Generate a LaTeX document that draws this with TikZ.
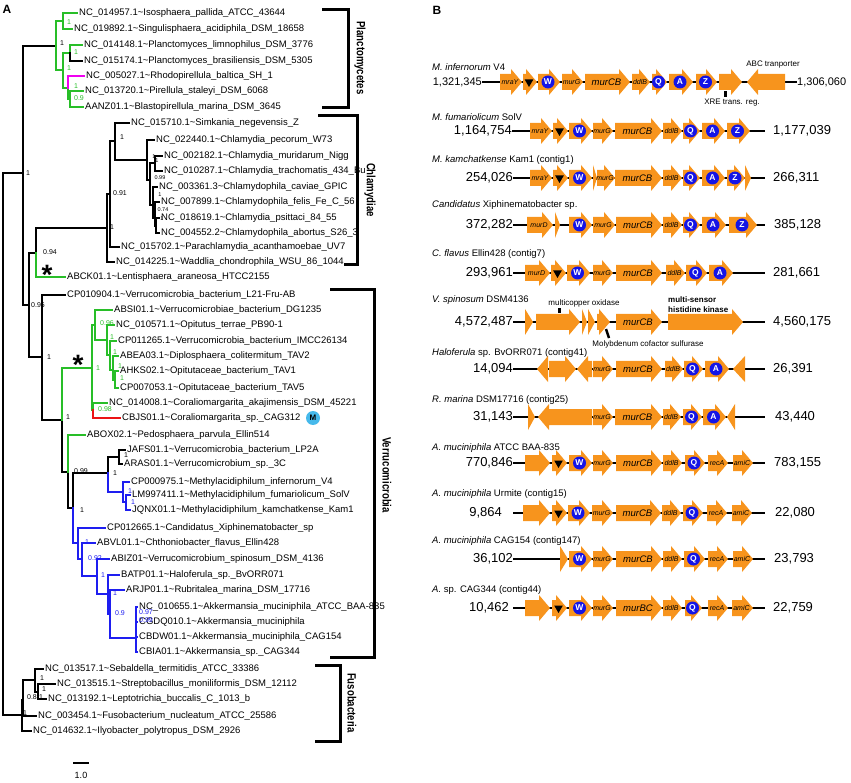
\documentclass[tikz,border=0pt]{standalone}
\usepackage{fontspec}
\setmainfont{Liberation Sans}
\usepackage{graphicx}
\usetikzlibrary{shapes.geometric}
\definecolor{treegreen}{RGB}{40,190,40}
\definecolor{treeblue}{RGB}{30,30,240}
\definecolor{treemag}{RGB}{240,0,240}
\definecolor{treered}{RGB}{235,20,20}
\definecolor{geneorange}{RGB}{247,148,29}
\definecolor{circblue}{RGB}{20,20,230}
\definecolor{mblue}{RGB}{70,185,235}
\newcommand{\tld}{\textasciitilde}
\newcommand{\rgene}[5][genelab]{%
  \fill[geneorange] (#2,#4-8) -- (#3-11,#4-8) -- (#3-11,#4-13) -- (#3,#4) -- (#3-11,#4+13) -- (#3-11,#4+8) -- (#2,#4+8) -- cycle;
  \node[#1] (g#2-#4) at ({(#2+#3)/2-1},#4) {#5};}
\newcommand{\lgene}[3]{%
  \fill[geneorange] (#2,#3-8) -- (#1+11,#3-8) -- (#1+11,#3-13) -- (#1,#3) -- (#1+11,#3+13) -- (#1+11,#3+8) -- (#2,#3+8) -- cycle;}
\newcommand{\rtip}[3]{\fill[geneorange] (#1,#3-13) -- (#2,#3) -- (#1,#3+13) -- cycle;}
\newcommand{\ltip}[3]{\fill[geneorange] (#2,#3-13) -- (#1,#3) -- (#2,#3+13) -- cycle;}
\tikzset{
  leaf/.style={anchor=west, inner xsep=2pt, inner ysep=0pt, font=\fontsize{9.5}{10}\selectfont},
  bs/.style={inner sep=0pt, font=\fontsize{7}{7}\selectfont},
  bss/.style={inner sep=0pt, font=\fontsize{5.5}{5.5}\selectfont},
  branch/.style={line width=1.6pt, line cap=rect},
  clade/.style={line width=3pt},
  cladelab/.style={rotate=-90, inner sep=0pt, font=\bfseries\fontsize{12}{12}\selectfont},
  astx/.style={anchor=base, inner sep=0pt, font=\bfseries\fontsize{28}{28}\selectfont},
  genelab/.style={font=\itshape\fontsize{7}{7}\selectfont, inner sep=0pt},
  bigit/.style={font=\itshape\fontsize{9.5}{9.5}\selectfont, inner sep=0pt},
  letter/.style={circle, fill=circblue, text=white, font=\bfseries\fontsize{8.5}{8.5}\selectfont, inner sep=0pt, minimum size=13pt},
  tri/.style={regular polygon, regular polygon sides=3, shape border rotate=180, fill=black, inner sep=0pt, minimum size=10pt},
  num/.style={font=\fontsize{13}{13}\selectfont, inner sep=0pt},
  numsm/.style={font=\fontsize{11}{11}\selectfont, inner sep=0pt},
  sp/.style={anchor=west, inner sep=0pt, font=\fontsize{9.5}{10}\selectfont},
  note/.style={font=\fontsize{8}{8}\selectfont, inner sep=0pt},
  chrom/.style={line width=1.6pt},
}
\begin{document}
\begin{tikzpicture}[x=1pt,y=-1pt]
\useasboundingbox (0,0) rectangle (851,783);
\node[font=\bfseries\fontsize{12}{12}\selectfont] (pa) at (7,9) {A};
\node[font=\bfseries\fontsize{12}{12}\selectfont] (pb) at (437,10) {B};

\coordinate (R) at (3,444);
\coordinate (A) at (23,173);
\coordinate (Np0) at (56,46);
\coordinate (Np1) at (63,21);
\coordinate (Np2) at (63,70);
\coordinate (Np3) at (70,53);
\coordinate (Np4) at (68,88);
\coordinate (Np5) at (70,99);
\coordinate (B) at (29,305);
\coordinate (NL) at (36,253);
\coordinate (Nc0) at (107,228);
\coordinate (Nc1) at (110,194);
\coordinate (Nc2) at (115,141);
\coordinate (Nc3) at (147,160);
\coordinate (Nc4) at (150,180);
\coordinate (Nc5) at (155,163);
\coordinate (Nc6) at (153,205);
\coordinate (Nc7) at (155,218);
\coordinate (Nc8) at (156,226);
\coordinate (V0) at (42,357);
\coordinate (V1) at (62,420);
\coordinate (V2) at (92,368);
\coordinate (V2a) at (95,325);
\coordinate (V2c) at (107,340);
\coordinate (V2d) at (110,355);
\coordinate (V2e) at (113,370);
\coordinate (V2f) at (115,380);
\coordinate (V2b) at (93,410);
\coordinate (V3) at (68,472);
\coordinate (V4) at (73,508);
\coordinate (V5) at (108,473);
\coordinate (V5a) at (119,457);
\coordinate (V5b) at (123,492);
\coordinate (V5c) at (126,502);
\coordinate (V6) at (78,543);
\coordinate (V7) at (82,559);
\coordinate (V8) at (97,576);
\coordinate (V9) at (108,594);
\coordinate (V10) at (110,614);
\coordinate (V11) at (136,638);
\coordinate (F0) at (22,715);
\coordinate (F1) at (23,700);
\coordinate (F2) at (35,680);
\coordinate (F3) at (38,692);

\node[leaf] (L1) at (77,13) {NC\_014957.1\tld Isosphaera\_pallida\_ATCC\_43644};
\node[leaf] (L2) at (72,29) {NC\_019892.1\tld Singulisphaera\_acidiphila\_DSM\_18658};
\node[leaf] (L3) at (82,45) {NC\_014148.1\tld Planctomyces\_limnophilus\_DSM\_3776};
\node[leaf] (L4) at (82,61) {NC\_015174.1\tld Planctomyces\_brasiliensis\_DSM\_5305};
\node[leaf] (L5) at (84,76) {NC\_005027.1\tld Rhodopirellula\_baltica\_SH\_1};
\node[leaf] (L6) at (83,91) {NC\_013720.1\tld Pirellula\_staleyi\_DSM\_6068};
\node[leaf] (L7) at (83,107) {AANZ01.1\tld Blastopirellula\_marina\_DSM\_3645};
\node[leaf] (C1) at (129,123) {NC\_015710.1\tld Simkania\_negevensis\_Z};
\node[leaf] (C2) at (154,140) {NC\_022440.1\tld Chlamydia\_pecorum\_W73};
\node[leaf] (C3) at (162,156) {NC\_002182.1\tld Chlamydia\_muridarum\_Nigg};
\node[leaf] (C4) at (162,171) {NC\_010287.1\tld Chlamydia\_trachomatis\_434\_Bu};
\node[leaf] (C5) at (157,187) {NC\_003361.3\tld Chlamydophila\_caviae\_GPIC};
\node[leaf] (C6) at (159,202) {NC\_007899.1\tld Chlamydophila\_felis\_Fe\_C\_56};
\node[leaf] (C7) at (159,218) {NC\_018619.1\tld Chlamydia\_psittaci\_84\_55};
\node[leaf] (C8) at (159,233) {NC\_004552.2\tld Chlamydophila\_abortus\_S26\_3};
\node[leaf] (C9) at (119,247) {NC\_015702.1\tld Parachlamydia\_acanthamoebae\_UV7};
\node[leaf] (C10) at (114,262) {NC\_014225.1\tld Waddlia\_chondrophila\_WSU\_86\_1044};
\node[leaf] (Le) at (65,277) {ABCK01.1\tld Lentisphaera\_araneosa\_HTCC2155};
\node[leaf] (Vcp) at (65,295) {CP010904.1\tld Verrucomicrobia\_bacterium\_L21-Fru-AB};
\node[leaf] (Vabsi) at (112,310) {ABSI01.1\tld Verrucomicrobiae\_bacterium\_DG1235};
\node[leaf] (Vopi) at (114,325) {NC\_010571.1\tld Opitutus\_terrae\_PB90-1};
\node[leaf] (Vimcc) at (116,341) {CP011265.1\tld Verrucomicrobia\_bacterium\_IMCC26134};
\node[leaf] (Vdip) at (118,356) {ABEA03.1\tld Diplosphaera\_colitermitum\_TAV2};
\node[leaf] (Vtav1) at (118,371) {AHKS02.1\tld Opitutaceae\_bacterium\_TAV1};
\node[leaf] (Vtav5) at (118,388) {CP007053.1\tld Opitutaceae\_bacterium\_TAV5};
\node[leaf] (Vcor) at (107,403) {NC\_014008.1\tld Coraliomargarita\_akajimensis\_DSM\_45221};
\node[leaf] (Vcag) at (120,418) {CBJS01.1\tld Coraliomargarita\_sp.\_CAG312};
\node[leaf] (Vabox) at (85,435) {ABOX02.1\tld Pedosphaera\_parvula\_Ellin514};
\node[leaf] (Vjafs) at (125,450) {JAFS01.1\tld Verrucomicrobia\_bacterium\_LP2A};
\node[leaf] (Varas) at (122,464) {ARAS01.1\tld Verrucomicrobium\_sp.\_3C};
\node[leaf] (Vinf) at (129,482) {CP000975.1\tld Methylacidiphilum\_infernorum\_V4};
\node[leaf] (Vfum) at (130,495) {LM997411.1\tld Methylacidiphilum\_fumariolicum\_SolV};
\node[leaf] (Vkam) at (130,510) {JQNX01.1\tld Methylacidiphilum\_kamchatkense\_Kam1};
\node[leaf] (Vxip) at (105,528) {CP012665.1\tld Candidatus\_Xiphinematobacter\_sp};
\node[leaf] (Vabvl) at (95,543) {ABVL01.1\tld Chthoniobacter\_flavus\_Ellin428};
\node[leaf] (Vabiz) at (109,559) {ABIZ01\tld Verrucomicrobium\_spinosum\_DSM\_4136};
\node[leaf] (Vbatp) at (119,575) {BATP01.1\tld Haloferula\_sp.\_BvORR071};
\node[leaf] (Varjp) at (124,590) {ARJP01.1\tld Rubritalea\_marina\_DSM\_17716};
\node[leaf] (Vak1) at (137,607) {NC\_010655.1\tld Akkermansia\_muciniphila\_ATCC\_BAA-835};
\node[leaf] (Vak2) at (137,622) {CGDQ010.1\tld Akkermansia\_muciniphila};
\node[leaf] (Vak3) at (137,637) {CBDW01.1\tld Akkermansia\_muciniphila\_CAG154};
\node[leaf] (Vak4) at (137,652) {CBIA01.1\tld Akkermansia\_sp.\_CAG344};
\node[leaf] (Fse) at (43,669) {NC\_013517.1\tld Sebaldella\_termitidis\_ATCC\_33386};
\node[leaf] (Fst) at (55,684) {NC\_013515.1\tld Streptobacillus\_moniliformis\_DSM\_12112};
\node[leaf] (Fle) at (46,699) {NC\_013192.1\tld Leptotrichia\_buccalis\_C\_1013\_b};
\node[leaf] (Ffu) at (36,716) {NC\_003454.1\tld Fusobacterium\_nucleatum\_ATCC\_25586};
\node[leaf] (Fil) at (31,731) {NC\_014632.1\tld Ilyobacter\_polytropus\_DSM\_2926};

\draw[branch] (R) |- (A) (R) |- (F0) (A) |- (Np0) (A) |- (B);
\draw[branch,treegreen] (Np0) |- (Np1) (Np0) |- (Np2) (Np1) |- (L1.west) (Np1) |- (L2.west) (Np2) |- (Np3) (Np2) |- (Np4) (Np3) |- (L3.west) (Np4) |- (Np5) (Np5) |- (L6.west) (Np5) |- (L7.west);
\draw[branch] (Np3) |- (L4.west);
\draw[branch,treemag] (Np4) |- (L5.west);
\draw[branch] (B) |- (NL) (NL) |- (Nc0) (Nc0) |- (Nc1) (Nc0) |- (C10.west) (Nc1) |- (Nc2) (Nc1) |- (C9.west) (Nc2) |- (C1.west) (Nc2) |- (Nc3) (Nc3) |- (C2.west) (Nc3) |- (Nc4) (Nc4) |- (Nc5) (Nc4) |- (Nc6) (Nc5) |- (C3.west) (Nc5) |- (C4.west) (Nc6) |- (C5.west) (Nc6) |- (Nc7) (Nc7) |- (C6.west) (Nc7) |- (Nc8) (Nc8) |- (C7.west) (Nc8) |- (C8.west);
\draw[branch,treegreen] (NL) |- (Le.west);
\draw[branch] (B) |- (V0) (V0) |- (Vcp.west) (V0) |- (V1) (V1) |- (V3) (V3) |- (V4) (V4) |- (V5) (V5) |- (V5a) (V5a) |- (Vjafs.west) (V5a) |- (Varas.west);
\draw[branch,treegreen] (V1) |- (V2) (V2) |- (V2a) (V2) |- (V2b) (V2a) |- (Vabsi.west) (V2a) |- (V2c) (V2c) |- (Vopi.west) (V2c) |- (V2d) (V2d) |- (Vimcc.west) (V2d) |- (V2e) (V2e) |- (Vdip.west) (V2e) |- (V2f) (V2f) |- (Vtav1.west) (V2f) |- (Vtav5.west) (V2b) |- (Vcor.west) (V3) |- (Vabox.west);
\draw[branch,treered] (V2b) |- (Vcag.west);
\draw[branch,treeblue] (V5) |- (V5b) (V5b) |- (Vinf.west) (V5b) |- (V5c) (V5c) |- (Vfum.west) (V5c) |- (Vkam.west) (V4) |- (V6) (V6) |- (Vxip.west) (V6) |- (V7) (V7) |- (Vabvl.west) (V7) |- (V8) (V8) |- (Vabiz.west) (V8) |- (V9) (V9) |- (Vbatp.west) (V9) |- (V10) (V10) |- (Varjp.west) (V10) |- (V11) (V11) |- (Vak1.west) (V11) |- (Vak2.west) (V11) |- (Vak3.west) (V11) |- (Vak4.west);
\draw[branch] (F0) |- (F1) (F0) |- (Fil.west) (F1) |- (F2) (F1) |- (Ffu.west) (F2) |- (Fse.west) (F2) |- (F3) (F3) |- (Fst.west) (F3) |- (Fle.west);

\node[bs,treegreen] (b1) at (69,22) {1};
\node[bs] (b2) at (62,43) {1};
\node[bs,treegreen] (b3) at (76,52) {1};
\node[bs,treegreen] (b4) at (69,68) {1};
\node[bs,treegreen] (b5) at (76,86) {1};
\node[bs,treegreen] (b6) at (79,98) {0.9};
\node[bs] (b7) at (28,173) {1};
\node[bs] (b8) at (122,137) {1};
\node[bs] (b9) at (120,193) {0.91};
\node[bs] (b10) at (112,227) {1};
\node[bss] (b11) at (154,157) {1};
\node[bss] (b12) at (157,161) {1};
\node[bss] (b13) at (160,178) {0.99};
\node[bss] (b14) at (160,195) {1};
\node[bss] (b15) at (163,210) {0.74};
\node[bss] (b16) at (162,219) {1};
\node[bs] (b17) at (50,252) {0.94};
\node[bs] (b18) at (38,305) {0.96};
\node[bs] (b19) at (49,357) {1};
\node[bs] (b20) at (68,417) {1};
\node[bs,treegreen] (b21) at (98,368) {1};
\node[bs,treegreen] (b22) at (107,323) {0.96};
\node[bs,treegreen] (b23) at (112,337) {1};
\node[bs,treegreen] (b24) at (115,352) {1};
\node[bs,treegreen] (b25) at (120,366) {1};
\node[bs,treegreen] (b26) at (122,378) {1};
\node[bs,treegreen] (b27) at (105,409) {0.98};
\node[bs] (b28) at (81,471) {0.99};
\node[bs] (b29) at (82,510) {1};
\node[bs] (b30) at (115,473) {1};
\node[bs] (b31) at (126,455) {1};
\node[bs,treeblue] (b32) at (130,491) {1};
\node[bs,treeblue] (b33) at (133,502) {1};
\node[bs,treeblue] (b34) at (87,542) {1};
\node[bs,treeblue] (b35) at (95,558) {0.92};
\node[bs,treeblue] (b36) at (103,575) {1};
\node[bs,treeblue] (b37) at (115,593) {1};
\node[bs,treeblue] (b38) at (120,613) {0.9};
\node[bs,treeblue] (b39) at (146,612) {0.97};
\node[bs,treeblue] (b40) at (146,620) {0.99};
\node[bs] (b41) at (42,678) {1};
\node[bs] (b42) at (44,689) {1};
\node[bs] (b43) at (32,697) {0.8};
\node[bs] (b44) at (41,697) {1};
\node[bs] (b45) at (25,713) {1};

\node[astx] (s1) at (47,285) {*};
\node[astx] (s2) at (78,374) {*};
\node[circle, fill=mblue, inner sep=0pt, minimum size=14pt, font=\bfseries\fontsize{8}{8}\selectfont] (mark) at (313,418) {M};

\draw[clade] (322,10) -- (348,10) -- (348,108) -- (322,108);
\node[cladelab] (cp) at (360,58) {\scalebox{0.8}[1]{Planctomycetes}};
\draw[clade] (318,116) -- (357,116) -- (357,265) -- (344,265);
\node[cladelab] (cc) at (370,190) {\scalebox{0.8}[1]{Chlamydiae}};
\draw[clade] (330,290) -- (374,290) -- (374,657) -- (330,657);
\node[cladelab] (cv) at (387,475) {\scalebox{0.8}[1]{Verrucomicrobia}};
\draw[clade] (315,665) -- (340,665) -- (340,741) -- (315,741);
\node[cladelab] (cf) at (352,703) {\scalebox{0.8}[1]{Fusobacteria}};

\draw[line width=1.5pt] (73,763) -- (89,763);
\node[font=\fontsize{9}{9}\selectfont] (sc) at (81,775) {1.0};

\node[sp] (t1) at (432,67) {\textit{M. infernorum} V4};
\node[sp] (t2) at (432,117) {\textit{M. fumariolicum} SolV};
\node[sp] (t3) at (432,160) {\textit{M. kamchatkense} Kam1 (contig1)};
\node[sp] (t4) at (432,205) {\textit{Candidatus} Xiphinematobacter sp.};
\node[sp] (t5) at (432,254) {\textit{C. flavus} Ellin428 (contig7)};
\node[sp] (t6) at (432,300) {\textit{V. spinosum} DSM4136};
\node[sp] (t7) at (432,353) {\textit{Haloferula} sp. BvORR071 (contig41)};
\node[sp] (t8) at (432,400) {\textit{R. marina} DSM17716 (contig25)};
\node[sp] (t9) at (432,448) {\textit{A. muciniphila} ATCC BAA-835};
\node[sp] (t10) at (432,494) {\textit{A. muciniphila} Urmite (contig15)};
\node[sp] (t11) at (432,541) {\textit{A. muciniphila} CAG154 (contig147)};
\node[sp] (t12) at (432,590) {\textit{A.} sp. CAG344 (contig44)};

\node[numsm, anchor=east] (l1) at (482,82) {1,321,345};
\node[numsm, anchor=west] (r1) at (797,82) {1,306,060};
\node[num, anchor=east] (l2) at (512,131) {1,164,754};
\node[num, anchor=west] (r2) at (773,131) {1,177,039};
\node[num, anchor=east] (l3) at (513,178) {254,026};
\node[num, anchor=west] (r3) at (773,178) {266,311};
\node[num, anchor=east] (l4) at (513,225) {372,282};
\node[num, anchor=west] (r4) at (774,225) {385,128};
\node[num, anchor=east] (l5) at (513,273) {293,961};
\node[num, anchor=west] (r5) at (773,273) {281,661};
\node[num, anchor=east] (l6) at (513,322) {4,572,487};
\node[num, anchor=west] (r6) at (773,322) {4,560,175};
\node[num, anchor=east] (l7) at (513,369) {14,094};
\node[num, anchor=west] (r7) at (773,369) {26,391};
\node[num, anchor=east] (l8) at (513,417) {31,143};
\node[num, anchor=west] (r8) at (775,417) {43,440};
\node[num, anchor=east] (l9) at (513,463) {770,846};
\node[num, anchor=west] (r9) at (774,463) {783,155};
\node[num, anchor=east] (l10) at (502,513) {9,864};
\node[num, anchor=west] (r10) at (775,513) {22,080};
\node[num, anchor=east] (l11) at (513,559) {36,102};
\node[num, anchor=west] (r11) at (774,559) {23,793};
\node[num, anchor=east] (l12) at (509,608) {10,462};
\node[num, anchor=west] (r12) at (773,608) {22,759};

\draw[chrom] (l1.east) -- (r1.west);
\draw[chrom, shorten >=8pt] (l2.east) -- (r2.west);
\draw[chrom, shorten >=8pt] (l3.east) -- (r3.west);
\draw[chrom, shorten >=9pt] (l4.east) -- (r4.west);
\draw[chrom, shorten >=8pt] (l5.east) -- (r5.west);
\draw[chrom, shorten >=8pt] (l6.east) -- (r6.west);
\draw[chrom, shorten >=8pt] (l7.east) -- (r7.west);
\draw[chrom, shorten >=10pt] (l8.east) -- (r8.west);
\draw[chrom, shorten >=9pt] (l9.east) -- (r9.west);
\draw[chrom, shorten <=11pt, shorten >=10pt] (l10.east) -- (r10.west);
\draw[chrom, shorten >=9pt] (l11.east) -- (r11.west);
\draw[chrom, shorten <=4pt, shorten >=8pt] (l12.east) -- (r12.west);

\rgene{500}{522}{82}{mraY}
\rgene[tri]{523}{537}{82}{}
\rgene[letter]{538}{560}{82}{W}
\rgene{562}{583}{82}{murG}
\rgene[bigit]{585}{630}{82}{murCB}
\rgene{632}{650}{82}{ddlB}
\rgene[letter]{652}{667}{82}{Q}
\rgene[letter]{669}{693}{82}{A}
\rgene[letter]{696}{717}{82}{Z}
\rgene{719}{742}{82}{}
\lgene{747}{785}{82}
\fill (724,91) rectangle (727,97);
\node[note] (xre) at (732,103) {XRE trans. reg.};
\node[note] (abc) at (773,65) {ABC tranporter};

\rgene{530}{552}{131}{mraY}
\rgene[tri]{553}{568}{131}{}
\rgene[letter]{569}{592}{131}{W}
\rgene{593}{613}{131}{murG}
\rgene[bigit]{615}{662}{131}{murCB}
\rgene{663}{682}{131}{ddlB}
\rgene[letter]{683}{700}{131}{Q}
\rgene[letter]{702}{725}{131}{A}
\rgene[letter]{727}{750}{131}{Z}

\rgene{530}{552}{178}{mraY}
\rgene[tri]{553}{568}{178}{}
\rgene[letter]{569}{592}{178}{W}
\rtip{593}{597}{178}
\rgene{597}{615}{178}{murG}
\rgene[bigit]{615}{662}{178}{murCB}
\rgene{663}{682}{178}{ddlB}
\rgene[letter]{683}{700}{178}{Q}
\rgene[letter]{702}{725}{178}{A}
\rgene[letter]{727}{745}{178}{Z}
\rtip{745}{751}{178}

\rgene{527}{553}{225}{murD}
\rtip{555}{560}{225}
\rgene[letter]{569}{592}{225}{W}
\rgene{593}{615}{225}{murG}
\rgene[bigit]{616}{662}{225}{murCB}
\rgene{663}{682}{225}{ddlB}
\rgene[letter]{683}{700}{225}{Q}
\rgene[letter]{702}{726}{225}{A}
\rgene[letter]{729}{757}{225}{Z}

\rgene{525}{550}{273}{murD}
\rgene[tri]{551}{566}{273}{}
\rgene[letter]{567}{590}{273}{W}
\rgene{593}{613}{273}{murG}
\rgene[bigit]{616}{662}{273}{murCB}
\rgene{666}{685}{273}{ddlB}
\rgene[letter]{686}{707}{273}{Q}
\rgene[letter]{709}{733}{273}{A}

\rtip{525}{533}{322}
\rgene{536}{580}{322}{}
\rtip{582}{587}{322}
\rtip{588}{595}{322}
\rgene{597}{610}{322}{}
\rgene[bigit]{616}{662}{322}{murCB}
\rgene{668}{743}{322}{}
\fill (558,308) rectangle (561,313);
\node[note] (mco) at (584,303) {multicopper oxidase};
\draw[line width=2.5pt] (606,329) -- (609,338);
\node[note] (moco) at (648,344) {Molybdenum cofactor sulfurase};
\node[note, anchor=west, align=left, font=\bfseries\fontsize{8}{10}\selectfont] (hk) at (668,305) {multi-sensor\\histidine kinase};

\ltip{537}{548}{369}
\rgene{549}{576}{369}{}
\lgene{577}{592}{369}
\rgene{593}{613}{369}{murG}
\rgene[bigit]{616}{662}{369}{murCB}
\rgene{665}{683}{369}{ddlB}
\rgene[letter]{684}{703}{369}{Q}
\rgene[letter]{705}{729}{369}{A}
\ltip{733}{745}{369}

\rtip{528}{535}{417}
\lgene{538}{592}{417}
\rgene{593}{613}{417}{murG}
\rgene[bigit]{615}{662}{417}{murCB}
\rgene{663}{681}{417}{ddlB}
\rgene[letter]{683}{702}{417}{Q}
\rgene[letter]{703}{726}{417}{A}
\ltip{727}{735}{417}

\rgene{525}{550}{463}{}
\rgene[tri]{552}{567}{463}{}
\rgene[letter]{569}{592}{463}{W}
\rgene{593}{613}{463}{murG}
\rgene[bigit]{616}{662}{463}{murCB}
\rgene{663}{682}{463}{ddlB}
\rgene[letter]{685}{705}{463}{Q}
\rgene{708}{728}{463}{recA}
\rgene{733}{753}{463}{amiC}

\rgene{523}{550}{513}{}
\rgene[tri]{552}{567}{513}{}
\rgene[letter]{568}{590}{513}{W}
\rgene{592}{613}{513}{murG}
\rgene[bigit]{616}{661}{513}{murCB}
\rgene{662}{681}{513}{ddlB}
\rgene[letter]{683}{703}{513}{Q}
\rgene{707}{727}{513}{recA}
\rgene{732}{752}{513}{amiC}

\rtip{560}{568}{559}
\rgene[letter]{569}{592}{559}{W}
\rgene{593}{613}{559}{murG}
\rgene[bigit]{616}{662}{559}{murCB}
\rgene{663}{682}{559}{ddlB}
\rgene[letter]{684}{705}{559}{Q}
\rgene{708}{728}{559}{recA}
\rgene{733}{753}{559}{amiC}

\rgene{525}{550}{608}{}
\rgene[tri]{552}{567}{608}{}
\rgene[letter]{569}{592}{608}{W}
\rgene{593}{613}{608}{murG}
\rgene[bigit]{616}{662}{608}{murBC}
\rgene{663}{682}{608}{ddlB}
\rgene[letter]{685}{702}{608}{Q}
\rgene{708}{728}{608}{recA}
\rgene{732}{753}{608}{amiC}
\end{tikzpicture}
\end{document}
